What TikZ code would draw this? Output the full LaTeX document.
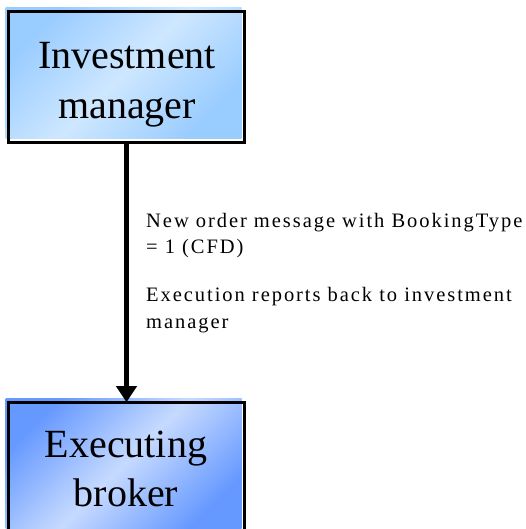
\documentclass[tikz,border=0pt]{standalone}
\usepackage{fontspec}
\setmainfont{Liberation Serif}
\newfontfamily\lblfont[LetterSpace=9.5]{Liberation Serif}
\usetikzlibrary{arrows.meta,backgrounds}
\definecolor{topdark}{RGB}{153,204,255}
\definecolor{toplight}{RGB}{206,231,255}
\definecolor{botdark}{RGB}{102,153,255}
\definecolor{botlight}{RGB}{198,218,255}
\begin{document}
\begin{tikzpicture}[x=1pt,y=-1pt,
  boxborder/.style={draw=black,line width=2.6pt,minimum width=236pt,minimum height=131pt,outer sep=0pt,inner sep=0pt},
  topshade/.style={top color=topdark,bottom color=topdark,middle color=toplight,shading angle=45},
  botshade/.style={top color=botdark,bottom color=botdark,middle color=botlight,shading angle=45},
  boxtext/.style={align=center,inner sep=0pt,font=\fontsize{40}{50}\selectfont},
  lbl/.style={align=left,inner sep=0pt,font=\lblfont\fontsize{20.5}{26.7}\selectfont},
  conn/.style={line width=4.5pt,-{Triangle[width=20pt,length=16pt]}}]
\useasboundingbox (0,0) rectangle (525,529);
\node[boxborder] (im) at (126.5,76.75) {};
\node[boxborder] (ex) at (126.5,467.7) {};
\begin{scope}[on background layer]
  \shade[topshade] ([shift={(-3,-3.6)}]im.south west) rectangle ([shift={(-3,-3.6)}]im.north east);
  \shade[botshade] ([shift={(-3,-3.6)}]ex.south west) rectangle ([shift={(-3,-3.6)}]ex.north east);
\end{scope}
\node[boxtext,anchor=north] (imt) at (127,42) {Investment\\manager};
\node[boxtext,anchor=north,font=\fontsize{40}{48.4}\selectfont] (ext) at (126,431) {Executing\\broker};
\node[lbl,anchor=north west] (msg) at (146,212.7) {New order message with BookingType\\= 1 (CFD)\\[21pt]Execution reports back to investment\\manager};
\draw[conn] (im.south) -- (ex.north);
\end{tikzpicture}
\end{document}
